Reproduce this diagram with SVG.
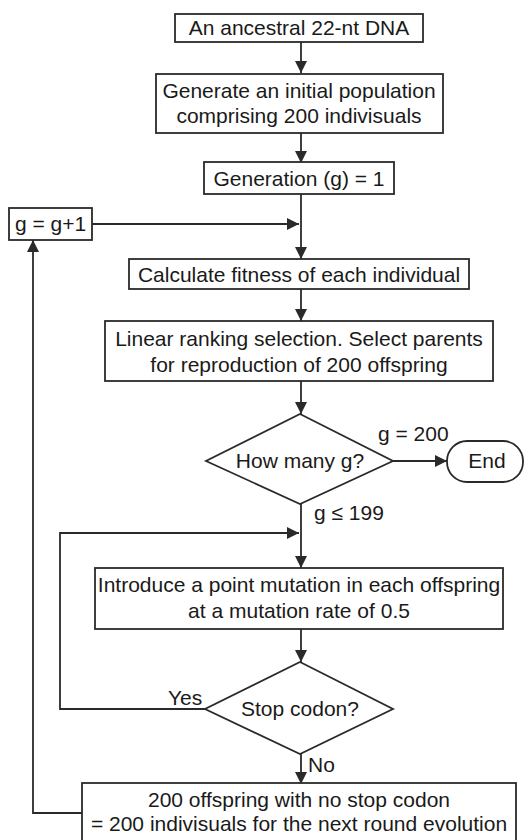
<svg xmlns="http://www.w3.org/2000/svg" width="531" height="840" viewBox="0 0 531 840">
<defs>
<style>
.n{fill:#fff;stroke:#2a2a2a;stroke-width:1.8}
.t{font-family:"Liberation Sans",Arial,sans-serif;font-size:21px;fill:#1a1a1a;text-anchor:middle}
.l{font-family:"Liberation Sans",Arial,sans-serif;font-size:21px;fill:#1a1a1a}
.c{fill:none;stroke:#2a2a2a;stroke-width:1.8}
</style>
<marker id="ah" markerUnits="userSpaceOnUse" markerWidth="14" markerHeight="14" refX="12" refY="6" orient="auto">
<path d="M0,0 L12,6 L0,12 Z" fill="#2a2a2a"/>
</marker>
</defs>
<g id="connectors">
<line class="c" x1="301" y1="42" x2="301" y2="73" marker-end="url(#ah)"/>
<line class="c" x1="301" y1="133" x2="301" y2="163" marker-end="url(#ah)"/>
<line class="c" x1="301" y1="194" x2="301" y2="259" marker-end="url(#ah)"/>
<line class="c" x1="92" y1="224" x2="299" y2="224" marker-end="url(#ah)"/>
<line class="c" x1="301" y1="289" x2="301" y2="321" marker-end="url(#ah)"/>
<line class="c" x1="301" y1="381" x2="301" y2="414" marker-end="url(#ah)"/>
<line class="c" x1="393" y1="461" x2="447" y2="461" marker-end="url(#ah)"/>
<line class="c" x1="301" y1="504" x2="301" y2="568" marker-end="url(#ah)"/>
<polyline class="c" points="206,709 60,709 60,533 299,533" marker-end="url(#ah)"/>
<line class="c" x1="301" y1="629" x2="301" y2="662" marker-end="url(#ah)"/>
<line class="c" x1="301" y1="754" x2="301" y2="784" marker-end="url(#ah)"/>
<polyline class="c" points="82,813 33,813 33,240" marker-end="url(#ah)"/>
</g>
<g id="n1"><rect class="n" x="175" y="14" width="248" height="28"/><text class="t" x="299" y="35">An ancestral 22-nt DNA</text></g>
<g id="n2"><rect class="n" x="156" y="74" width="287" height="59"/><text class="t" x="299" y="98">Generate an initial population</text><text class="t" x="299" y="123">comprising 200 indivisuals</text></g>
<g id="n3"><rect class="n" x="204" y="162" width="190" height="32"/><text class="t" x="299" y="186">Generation (g) = 1</text></g>
<g id="n4"><rect class="n" x="9" y="208" width="83" height="32"/><text class="t" x="50.5" y="231">g = g+1</text></g>
<g id="n5"><rect class="n" x="129" y="259" width="340" height="30"/><text class="t" x="299" y="282">Calculate fitness of each individual</text></g>
<g id="n6"><rect class="n" x="105" y="321" width="388" height="60"/><text class="t" x="299" y="346">Linear ranking selection. Select parents</text><text class="t" x="299" y="372">for reproduction of 200 offspring</text></g>
<g id="n7"><polygon class="n" points="300,414 393,461 300,504 206,461"/><text class="t" x="300" y="468">How many g?</text></g>
<g id="n8"><rect class="n" x="447" y="441" width="76" height="41" rx="20" ry="20"/><text class="t" x="487" y="468">End</text></g>
<g id="n9"><rect class="n" x="95" y="568" width="408" height="61"/><text class="t" x="299" y="592">Introduce a point mutation in each offspring</text><text class="t" x="299" y="618">at a mutation rate of 0.5</text></g>
<g id="n10"><polygon class="n" points="300,662 393,709 300,754 205,709"/><text class="t" x="300" y="716">Stop codon?</text></g>
<g id="n11"><rect class="n" x="82" y="783" width="434" height="60"/><text class="t" x="299" y="807">200 offspring with no stop codon</text><text class="t" x="299" y="831">= 200 indivisuals for the next round evolution</text></g>
<g id="labels">
<text class="l" x="378" y="441">g = 200</text>
<text class="l" x="314" y="520">g ≤ 199</text>
<text class="l" x="168" y="705">Yes</text>
<text class="l" x="308" y="772">No</text>
</g>
</svg>
